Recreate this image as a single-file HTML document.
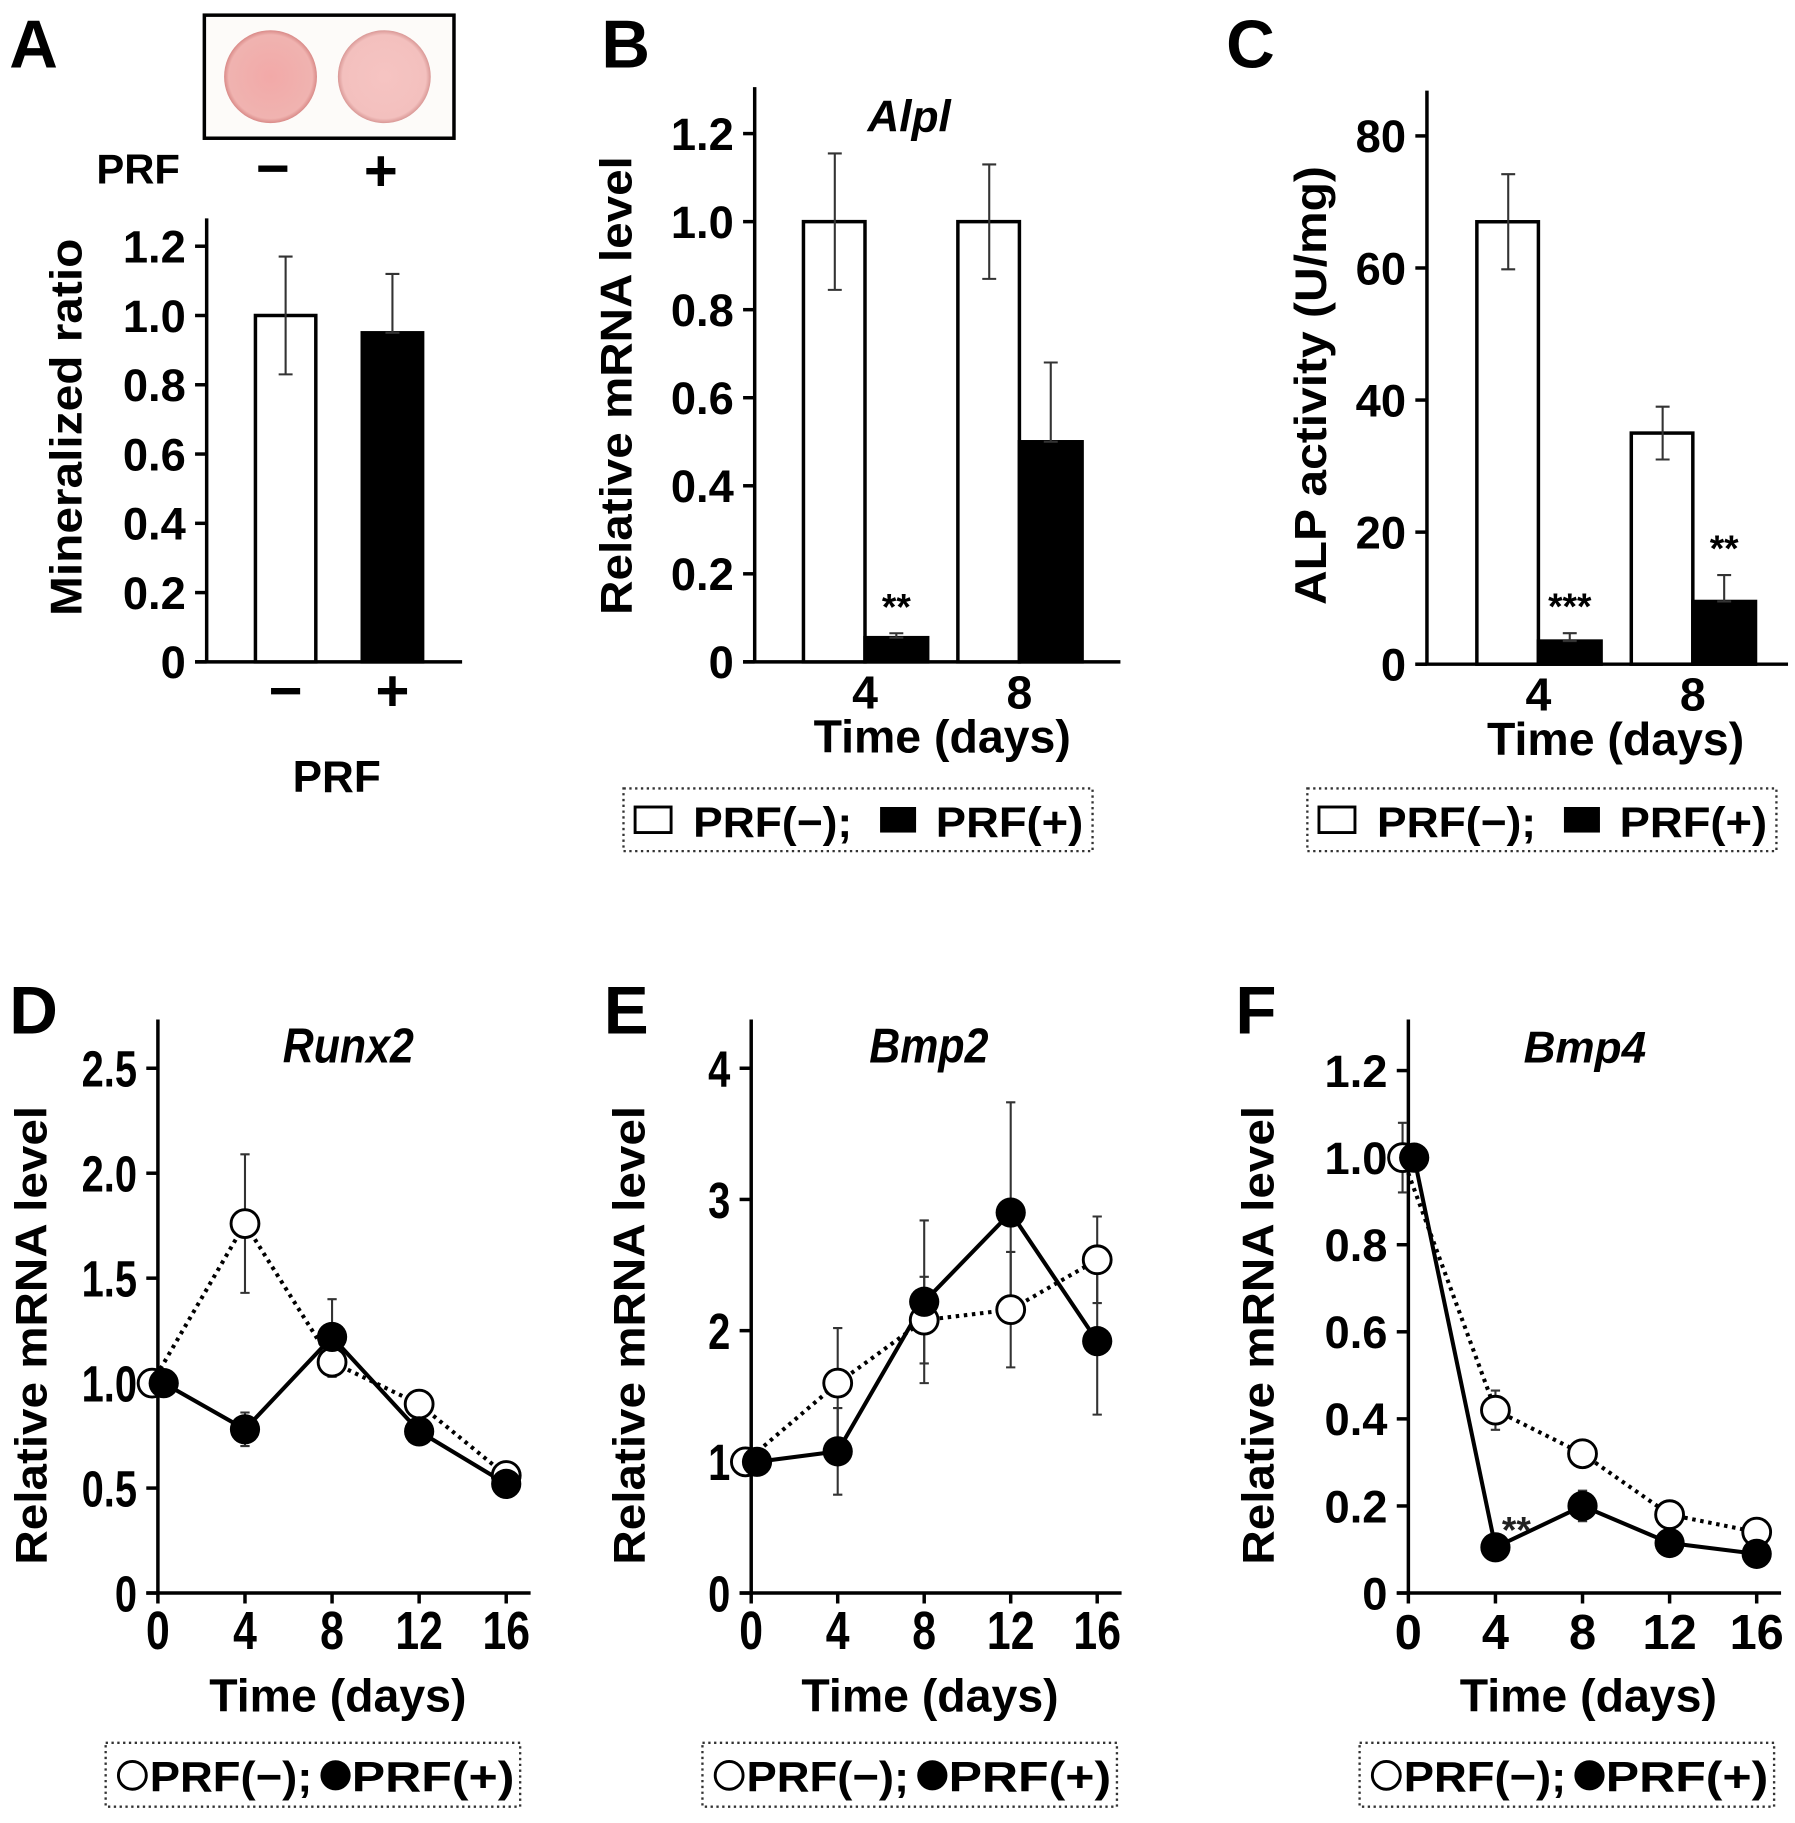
<!DOCTYPE html>
<html><head><meta charset="utf-8"><style>
html,body{margin:0;padding:0;background:#fff;}
svg{display:block;font-family:"Liberation Sans",Arial,sans-serif;font-weight:bold;}
</style></head><body>
<svg id="fig" xmlns="http://www.w3.org/2000/svg" width="1795" height="1823" viewBox="0 0 1546 1570">
<defs>
<radialGradient id="wellA" cx="50%" cy="50%" r="50%"><stop offset="0" stop-color="#f2a9a8"/><stop offset="0.9" stop-color="#f0b3b0"/><stop offset="1" stop-color="#d98a88"/></radialGradient>
<radialGradient id="wellB" cx="50%" cy="50%" r="50%"><stop offset="0" stop-color="#f6c4c2"/><stop offset="0.9" stop-color="#f3c0be"/><stop offset="1" stop-color="#d99896"/></radialGradient>
</defs>
<g id="root"></g>
</svg>
<script>
// ---- data ----
const aCats = ["−","+"];
const aVals = [1.0, 0.95];
const aErr = [0.17, 0.17];
const aTicks = ["0","0.2","0.4","0.6","0.8","1.0","1.2"];

const bCats = ["4","8"];
const bNeg = [1.0, 1.0];
const bNegErr = [0.155, 0.13];
const bPos = [0.055, 0.5];
const bPosErr = [0.01, 0.18];
const bTicks = ["0","0.2","0.4","0.6","0.8","1.0","1.2"];

const cCats = ["4","8"];
const cNeg = [67, 35];
const cNegErr = [7.2, 4];
const cPos = [3.5, 9.5];
const cPosErr = [1.2, 4];
const cTicks = ["0","20","40","60","80"];

const days = [0,4,8,12,16];
const dNeg = [1.0, 1.76, 1.1, 0.9, 0.56];
const dNegErr = [0, 0.33, 0.07, 0.04, 0.02];
const dPos = [1.0, 0.78, 1.22, 0.77, 0.52];
const dPosErr = [0, 0.08, 0.18, 0.03, 0.02];
const dTicks = ["0","0.5","1.0","1.5","2.0","2.5"];

const eNeg = [1.0, 1.6, 2.08, 2.16, 2.54];
const eNegErr = [0, 0.42, 0.33, 0.44, 0.33];
const ePos = [1.0, 1.08, 2.22, 2.9, 1.92];
const ePosErr = [0, 0.33, 0.62, 0.84, 0.56];
const eTicks = ["0","1","2","3","4"];

const fNeg = [1.0, 0.42, 0.32, 0.18, 0.14];
const fNegErr = [0.08, 0.045, 0.01, 0.01, 0.01];
const fPos = [1.0, 0.105, 0.2, 0.115, 0.09];
const fPosErr = [0, 0.01, 0.035, 0.01, 0.01];
const fTicks = ["0","0.2","0.4","0.6","0.8","1.0","1.2"];
const xTicks = ["0","4","8","12","16"];

// ---- helpers ----
const NS = "http://www.w3.org/2000/svg";
const root = document.getElementById('root');
function mk(tag, attrs, parent) {
  const el = document.createElementNS(NS, tag);
  for (const k in attrs) el.setAttribute(k, attrs[k]);
  (parent || root).appendChild(el);
  return el;
}
function txt(s, attrs, parent) { const t = mk('text', attrs, parent); t.textContent = s; return t; }
function lin(d0, d1, r0, r1) { return v => r0 + (v - d0) * (r1 - r0) / (d1 - d0); }

function yAxis(g, x, yTop, yBot, ticks, yScale, labelX, fs, condensed) {
  let el = mk('line', {x1:x, y1:yTop, x2:x, y2:yBot, stroke:'#000', 'stroke-width':3}, g);
  
  
  ticks.forEach(t => {
    const y = yScale(parseFloat(t));
    let tk = mk('line', {x1:x-10, y1:y, x2:x, y2:y, stroke:'#000', 'stroke-width':3}, g);
    
    
    const attrs = {x:labelX, y:y+fs*0.36, 'text-anchor':'end', 'font-size':fs};
    let lb = txt(t, attrs, g);
    if (condensed) lb.setAttribute('transform', `translate(${labelX},0) scale(0.78,1) translate(${-labelX},0)`);
    
    
  });
}
function yTitle(g, s, cx, cy, len, fs) {
  let t = txt(s, {x:0, y:0, 'text-anchor':'middle', 'font-size':fs, textLength:len, lengthAdjust:'spacingAndGlyphs', transform:`translate(${cx},${cy}) rotate(-90)`}, g);
  
  
}
function panelLetter(s, x, y) {
  let t = txt(s, {x:x, y:y, 'font-size':58});
  
  
}
function errBar(g, x, y1, y2, cap) {
  let e = mk('path', {d:`M${x},${y1}V${y2}M${x-cap},${y1}h${2*cap}M${x-cap},${y2}h${2*cap}`, stroke:'#333', 'stroke-width':1.8, fill:'none'}, g);
  
  
}
function bar(g, x0, x1, yv, y0, fill, name) {
  let r = mk('rect', {x:x0, y:yv, width:x1-x0, height:y0-yv, fill:fill, stroke:'#000', 'stroke-width':3}, g);
  
  
}
function barLegend(x, y, w, h) {
  const g = mk('g', {});
  
  
  let b = mk('rect', {x:x, y:y, width:w, height:h, fill:'none', stroke:'#333', 'stroke-width':2, 'stroke-dasharray':'2,3'}, g);
  
  
  let s1 = mk('rect', {x:x+10, y:y+16, width:31, height:22, fill:'#fff', stroke:'#000', 'stroke-width':2.5}, g);
  
  
  let t1 = txt('PRF(−);', {x:x+60, y:y+42, 'font-size':37, textLength:137, lengthAdjust:'spacingAndGlyphs'}, g);
  
  
  let s2 = mk('rect', {x:x+221, y:y+16, width:31, height:22, fill:'#000'}, g);
  
  
  let t2 = txt('PRF(+)', {x:x+269, y:y+42, 'font-size':37, textLength:127, lengthAdjust:'spacingAndGlyphs'}, g);
  
  
}
function lineLegend(x, y, w, h) {
  const g = mk('g', {});
  
  
  let b = mk('rect', {x:x, y:y, width:w, height:h, fill:'none', stroke:'#333', 'stroke-width':2, 'stroke-dasharray':'2,3'}, g);
  
  
  let c1 = mk('circle', {cx:x+23, cy:y+28, r:12, fill:'#fff', stroke:'#000', 'stroke-width':2.5}, g);
  
  
  let t1 = txt('PRF(−);', {x:x+38, y:y+42, 'font-size':37, textLength:140, lengthAdjust:'spacingAndGlyphs'}, g);
  
  
  let c2 = mk('circle', {cx:x+198, cy:y+28, r:13, fill:'#000'}, g);
  
  
  let t2 = txt('PRF(+)', {x:x+212, y:y+42, 'font-size':37, textLength:140, lengthAdjust:'spacingAndGlyphs'}, g);
  
  
}

// ---- Panel A ----
(function(){
  panelLetter('A', 8, 58);
  const g = mk('g', {});
  
  
  let box = mk('rect', {x:176, y:13, width:215, height:106, fill:'#fdfbf9', stroke:'#000', 'stroke-width':3}, g);
  
  
  let w1 = mk('circle', {cx:233, cy:66, r:40, fill:'url(#wellA)'}, g);
  
  
  let w2 = mk('circle', {cx:331, cy:66, r:40, fill:'url(#wellB)'}, g);
  
  
  let p = txt('PRF', {x:83, y:158, 'font-size':36}, g);
  
  
  let m = txt('−', {x:235, y:162, 'font-size':50, 'text-anchor':'middle'}, g);
  
  
  let pl = txt('+', {x:328, y:164, 'font-size':50, 'text-anchor':'middle'}, g);
  
  

  const y = lin(0, 1.2, 570, 212);
  yAxis(g, 178, 188, 571, aTicks, y, 160, 39, false);
  let xa = mk('line', {x1:168, y1:570, x2:398, y2:570, stroke:'#000', 'stroke-width':3}, g);
  
  
  const centers = [246, 338], fills = ['#fff', '#000'];
  aVals.forEach((v, i) => {
    bar(g, centers[i]-26, centers[i]+26, y(v), 570, fills[i], 'bar-prf-' + (i ? 'pos' : 'neg'));
    errBar(g, centers[i], y(v + aErr[i]), i ? y(v) : y(v - aErr[i]), 6);
    let lb = txt(aCats[i], {x:centers[i], y:612, 'font-size':50, 'text-anchor':'middle'}, g);
    
    
  });
  let xt = txt('PRF', {x:290, y:682, 'font-size':38, 'text-anchor':'middle'}, g);
  
  
  yTitle(g, 'Mineralized ratio', 70, 368, 325, 38);
})();

// ---- Bar panels B, C ----
function barPanel(letter, lx, axisX, top, y, ticks, cats, neg, negErr, pos, posErr, centers, title, titleX, ytitle, ytx, ylen, stars, xEnd) {
  panelLetter(letter, lx, 58);
  const g = mk('g', {});
  
  
  const base = y(0);
  yAxis(g, axisX, top, base+1, ticks, y, axisX-18, 39, false);
  let xa = mk('line', {x1:axisX-10, y1:base, x2:xEnd, y2:base, stroke:'#000', 'stroke-width':3}, g);
  
  
  cats.forEach((c, i) => {
    const cx = centers[i];
    bar(g, cx-53, cx, y(neg[i]), base, '#fff', 'bar-prf-neg-day' + c);
    bar(g, cx, cx+54, y(pos[i]), base, '#000', 'bar-prf-pos-day' + c);
    errBar(g, cx-26, y(neg[i]+negErr[i]), y(neg[i]-negErr[i]), 6);
    errBar(g, cx+27, y(pos[i]+posErr[i]), y(pos[i]), 6);
    let lb = txt(c, {x:cx, y:base+40, 'font-size':40, 'text-anchor':'middle'}, g);
    
    
    if (stars[i]) {
      let s = txt(stars[i], {x:cx+27, y:y(pos[i]+posErr[i])-12, 'font-size':32, 'text-anchor':'middle'}, g);
      
      
    }
  });
  let xt = txt('Time (days)', {x:(centers[0]+centers[1])/2, y:base+78, 'font-size':40, 'text-anchor':'middle'}, g);
  
  
  if (title) {
    let tt = txt(title, {x:titleX, y:113, 'font-size':38, 'font-style':'italic', 'text-anchor':'middle'}, g);
    
    
  }
  yTitle(g, ytitle, ytx, 332, ylen, 38);
}
barPanel('B', 518, 650, 75, lin(0, 1.2, 570, 115), bTicks, bCats, bNeg, bNegErr, bPos, bPosErr, [745, 878], 'Alpl', 783, 'Relative mRNA level', 544, 395, ['**', null], 965);
barLegend(537, 679, 404, 54);
barPanel('C', 1056, 1229, 78, lin(0, 80, 572, 117), cTicks, cCats, cNeg, cNegErr, cPos, cPosErr, [1325, 1458], null, 0, 'ALP activity (U/mg)', 1142, 378, ['***', '**'], 1540);
barLegend(1126, 679, 404, 54);

// ---- Line panels D, E, F ----
function linePanel(letter, lx, axisX, xRight, y, ticks, neg, negErr, pos, posErr, title, titleX, ytx, condensed, star) {
  panelLetter(letter, lx, 890);
  const g = mk('g', {});
  
  
  const base = 1372;
  const x = lin(0, 16, axisX, xRight);
  yAxis(g, axisX, 878, base+1, ticks, y, axisX-18, condensed ? 44 : 39, condensed);
  let xa = mk('line', {x1:axisX-10, y1:base, x2:xRight+21, y2:base, stroke:'#000', 'stroke-width':3}, g);
  
  
  xTicks.forEach(t => {
    const xx = x(parseFloat(t));
    let tk = mk('line', {x1:xx, y1:base, x2:xx, y2:base+9, stroke:'#000', 'stroke-width':3}, g);
    
    
    let lb = txt(t, {x:xx, y:base+48, 'font-size':condensed ? 46 : 42, 'text-anchor':'middle'}, g);
    if (condensed) lb.setAttribute('transform', `translate(${xx},0) scale(0.8,1) translate(${-xx},0)`);
    
    
  });
  const off = i => i === 0 ? 5 : 0;
  days.forEach((d, i) => {
    if (negErr[i] > 0) errBar(g, x(d)-off(i), y(neg[i]+negErr[i]), y(neg[i]-negErr[i]), 4);
    if (posErr[i] > 0) errBar(g, x(d)+off(i), y(pos[i]+posErr[i]), y(pos[i]-posErr[i]), 4);
  });
  let pn = mk('polyline', {points: days.map((d, i) => `${x(d)-off(i)},${y(neg[i])}`).join(' '), fill:'none', stroke:'#000', 'stroke-width':3.5, 'stroke-dasharray':'3,4'}, g);
  
  
  let pp = mk('polyline', {points: days.map((d, i) => `${x(d)+off(i)},${y(pos[i])}`).join(' '), fill:'none', stroke:'#000', 'stroke-width':3.5}, g);
  
  
  days.forEach((d, i) => {
    let c1 = mk('circle', {cx:x(d)-off(i), cy:y(neg[i]), r:12, fill:'#fff', stroke:'#000', 'stroke-width':2.5}, g);
    
    
  });
  days.forEach((d, i) => {
    let c2 = mk('circle', {cx:x(d)+off(i), cy:y(pos[i]), r:13, fill:'#000'}, g);
    
    
  });
  if (star) {
    let s = txt('**', {x:x(4)+18, y:y(pos[1])-4, 'font-size':32, 'text-anchor':'middle', fill:'#222'}, g);
    
    
  }
  let xt = txt('Time (days)', {x:(axisX+xRight)/2+5, y:1474, 'font-size':40, 'text-anchor':'middle'}, g);
  
  
  let tt = txt(title, {x:titleX, y:915, 'font-size':condensed ? 42 : 38, 'font-style':'italic', 'text-anchor':'middle'}, g);
  if (condensed) tt.setAttribute('transform', `translate(${titleX},0) scale(0.88,1) translate(${-titleX},0)`);
  
  
  yTitle(g, 'Relative mRNA level', ytx, 1150, 395, 38);
}
linePanel('D', 8, 136, 436, lin(0, 2.5, 1372, 920), dTicks, dNeg, dNegErr, dPos, dPosErr, 'Runx2', 300, 40, true, false);
lineLegend(91, 1501, 357, 55);
linePanel('E', 520, 647, 945, lin(0, 4, 1372, 920), eTicks, eNeg, eNegErr, ePos, ePosErr, 'Bmp2', 800, 555, true, false);
lineLegend(605, 1501, 357, 55);
linePanel('F', 1064, 1213, 1513, lin(0, 1.2, 1372, 922), fTicks, fNeg, fNegErr, fPos, fPosErr, 'Bmp4', 1365, 1097, false, true);
lineLegend(1171, 1501, 357, 55);
</script>
</body></html>
